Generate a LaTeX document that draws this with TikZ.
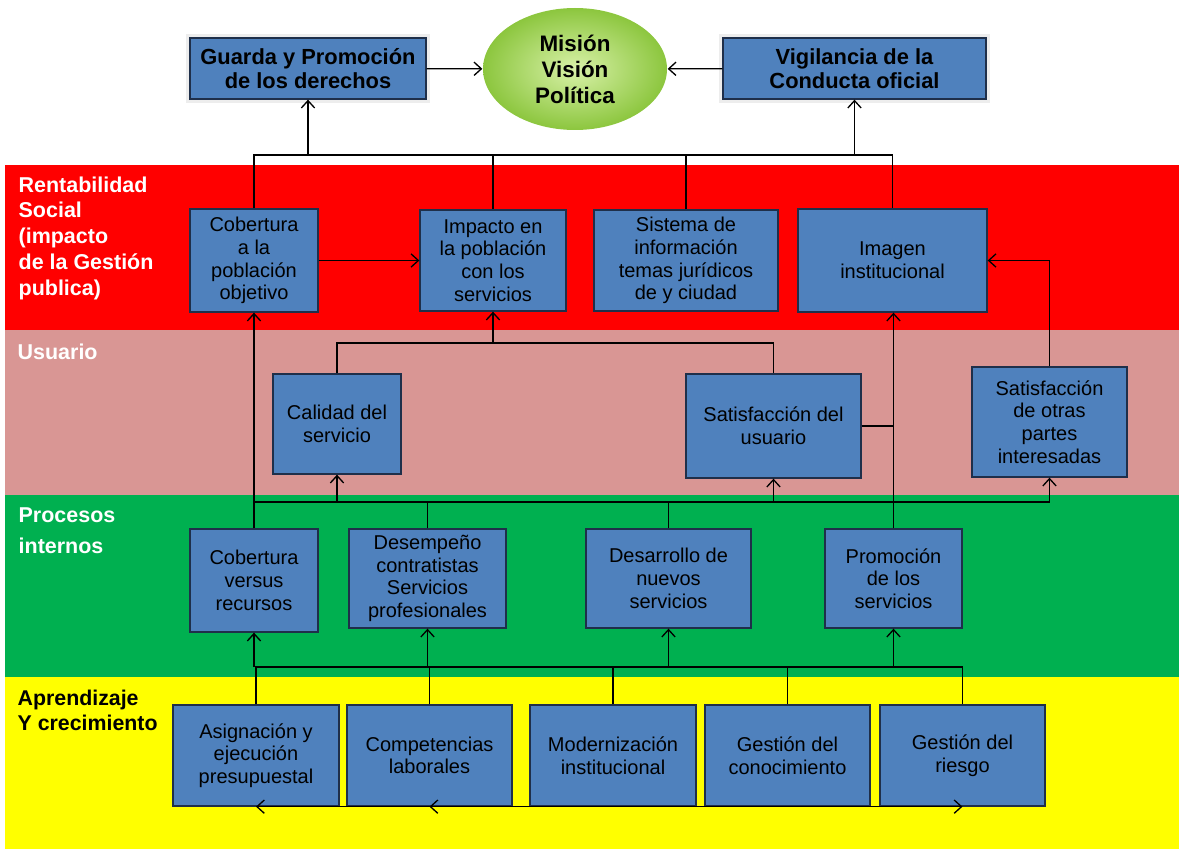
\documentclass[tikz,border=0pt]{standalone}
\usepackage{fontspec}
\setmainfont{Liberation Sans}
\usetikzlibrary{arrows.meta}
\usetikzlibrary{shapes.geometric}

\definecolor{rojo}{HTML}{FF0000}
\definecolor{rosa}{HTML}{D99694}
\definecolor{verde}{HTML}{00B050}
\definecolor{amarillo}{HTML}{FFFF00}
\definecolor{azulcaja}{HTML}{4F81BD}
\definecolor{bordecaja}{HTML}{1F2F4A}
\definecolor{elipsein}{HTML}{D8F1A8}
\definecolor{elipseout}{HTML}{8CC63E}

\begin{document}
\begin{tikzpicture}[x=0.75pt,y=-0.75pt,line width=1pt,
  tam/.style 2 args={minimum width=#1*0.75pt,minimum height=#2*0.75pt},
  caja/.style={draw=bordecaja,fill=azulcaja,align=center,inner sep=0pt,
    font=\fontsize{15}{17}\selectfont},
  cajatop/.style={caja,preaction={draw=black!7,line width=6pt,rounded corners=2pt},
    font=\bfseries\fontsize{16.4}{18.2}\selectfont},
  etiqueta/.style={anchor=north west,align=left,inner sep=0pt,text=white,
    font=\bfseries\fontsize{16.1}{19.3}\selectfont},
  flecha/.style={-{Straight Barb[length=5.5pt,width=10pt]}}]
  \useasboundingbox (0,0) rectangle (1179,849);

  \fill[rojo] (5,165) rectangle (1179,330);
  \fill[rosa] (5,330) rectangle (1179,495);
  \fill[verde] (5,495) rectangle (1179,677);
  \fill[amarillo] (5,677) rectangle (1179,849);

  \node[etiqueta] (lrent) at (18,176)
    {Rentabilidad\\Social\\(impacto\\de la Gestión\\publica)};
  \node[etiqueta] (lusu) at (17,343) {Usuario};
  \node[etiqueta,font=\bfseries\fontsize{16.1}{23.3}\selectfont] (lproc) at (18,507)
    {Procesos\\internos};
  \node[etiqueta,text=black,font=\bfseries\fontsize{16}{18.8}\selectfont] (lapr) at (17,689)
    {Aprendizaje\\Y crecimiento};

  \node[cajatop,tam={236}{61}] (guarda) at (308,68.5)
    {Guarda y Promoción\\de los derechos};
  \node[cajatop,tam={263}{61}] (vigil) at (854.5,68.5)
    {Vigilancia de la\\Conducta oficial};
  \node[ellipse,tam={184}{122},inner sep=0pt,inner color=elipsein,outer color=elipseout,
    align=center,font=\bfseries\fontsize{16.8}{19.5}\selectfont] (mision) at (575,69)
    {Misión\\Visión\\Política};

  \node[caja,tam={128}{103}] (cobpob) at (254,260.5) {Cobertura\\a la\\población\\objetivo};
  \node[caja,tam={146}{101}] (impacto) at (493,260.5) {Impacto en\\la población\\con los\\servicios};
  \node[caja,tam={184}{101}] (sistema) at (686,260.5) {Sistema de\\información\\temas jurídicos\\de y ciudad};
  \node[caja,tam={189}{103}] (imagen) at (892.5,260.5) {Imagen\\institucional};

  \node[caja,tam={128}{100}] (calidad) at (337,424) {Calidad del\\servicio};
  \node[caja,tam={175}{104}] (satusu) at (773.5,426) {Satisfacción del\\usuario};
  \node[caja,tam={155}{110}] (satotras) at (1049.5,422) {Satisfacción\\de otras\\partes\\interesadas};

  \node[caja,tam={128}{103}] (cobrec) at (254,580.5) {Cobertura\\versus\\recursos};
  \node[caja,tam={157}{99}] (desemp) at (427.5,578.5) {Desempeño\\contratistas\\Servicios\\profesionales};
  \node[caja,tam={165}{99}] (desarr) at (668.5,578.5) {Desarrollo de\\nuevos\\servicios};
  \node[caja,tam={137}{99}] (promo) at (893.5,578.5) {Promoción\\de los\\servicios};

  \node[caja,tam={166}{101}] (asig) at (256,755.5) {Asignación y\\ejecución\\presupuestal};
  \node[caja,tam={165}{101}] (comp) at (429.5,755.5) {Competencias\\laborales};
  \node[caja,tam={166}{101}] (moder) at (613,755.5) {Modernización\\institucional};
  \node[caja,tam={165}{101}] (conoc) at (787.5,755.5) {Gestión del\\conocimiento};
  \node[caja,tam={165}{101}] (riesgo) at (962.5,755.5) {Gestión del\\riesgo};

  \coordinate (bus1) at (0,155);
  \coordinate (bus2) at (0,343);
  \coordinate (bus3) at (0,502);
  \coordinate (bus4) at (0,667);

  \draw[flecha] (guarda) -- (mision);
  \draw[flecha] (vigil) -- (mision);
  \draw (cobpob.north) |- (imagen.north |- bus1) -- (imagen.north);
  \draw (impacto.north) -- (impacto.north |- bus1);
  \draw (sistema.north) -- (sistema.north |- bus1);
  \draw[flecha] (guarda.south |- bus1) -- (guarda.south);
  \draw[flecha] (vigil.south |- bus1) -- (vigil.south);

  \draw[flecha] (cobpob) -- (impacto);
  \draw[flecha] (satotras.north) |- (imagen.east);

  \draw (calidad.north) |- (satusu.north |- bus2) -- (satusu.north);
  \draw[flecha] (impacto.south |- bus2) -- (impacto.south);
  \draw[flecha] (promo.north) -- (promo.north |- imagen.south);
  \draw (satusu.east) -- (satusu.east -| promo.north);
  \draw[flecha] (cobrec.north) -- (cobpob.south);

  \draw[flecha] (cobrec.north |- bus3) -| (satotras.south);
  \draw (desemp.north) -- (desemp.north |- bus3);
  \draw (desarr.north) -- (desarr.north |- bus3);
  \draw[flecha] (calidad.south |- bus3) -- (calidad.south);
  \draw[flecha] (satusu.south |- bus3) -- (satusu.south);

  \draw (asig.north) |- (riesgo.north |- bus4) -- (riesgo.north);
  \draw (comp.north) -- (comp.north |- bus4);
  \draw (moder.north) -- (moder.north |- bus4);
  \draw (conoc.north) -- (conoc.north |- bus4);
  \draw[flecha] (cobrec.south |- bus4) -- (cobrec.south);
  \draw[flecha] (desemp.south |- bus4) -- (desemp.south);
  \draw[flecha] (desarr.south |- bus4) -- (desarr.south);
  \draw[flecha] (promo.south |- bus4) -- (promo.south);

  \draw[flecha] (moder.south) -- (comp.south);
  \draw[flecha] (comp.south) -- (asig.south);
  \draw[flecha] (moder.south) -- (riesgo.south);
\end{tikzpicture}
\end{document}
